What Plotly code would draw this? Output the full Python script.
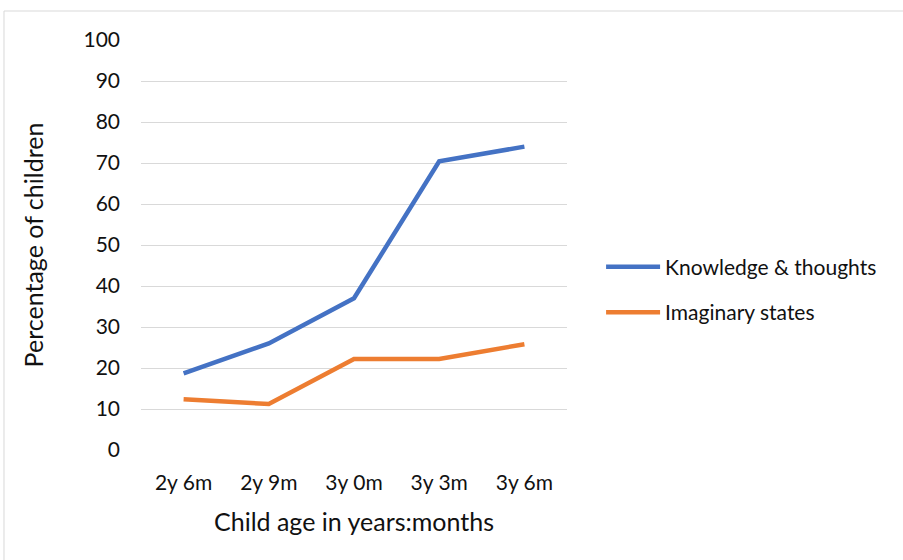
import plotly.graph_objects as go

# Age groups on the horizontal axis
ages = ["2y 6m", "2y 9m", "3y 0m", "3y 3m", "3y 6m"]

# Percentage of children per age group
knowledge_thoughts = [18.7, 26.0, 37.0, 70.4, 74.0]
imaginary_states = [12.4, 11.2, 22.2, 22.2, 25.8]

y_ticks = list(range(0, 101, 10))

FONT = "Lato, 'Open Sans', sans-serif"
TEXT = "#111111"
GRID = "#d9d9d9"

fig = go.Figure()
fig.add_trace(go.Scatter(
    x=ages, y=knowledge_thoughts, mode="lines", name="Knowledge & thoughts",
    legendgroup="k", line=dict(color="#4472C4", width=4.5),
))
fig.add_trace(go.Scatter(
    x=ages, y=imaginary_states, mode="lines", name="Imaginary states",
    legendgroup="i", line=dict(color="#ED7D31", width=4.5),
))

# light chart-area frame
fig.add_shape(type="rect", xref="paper", yref="paper",
              x0=-0.3216, x1=3.0, y0=-1.0, y1=1.0707,
              line=dict(color=GRID, width=1), fillcolor="rgba(0,0,0,0)",
              layer="below")

fig.update_layout(
    width=903, height=560,
    margin=dict(l=141, r=336, t=40, b=110),
    paper_bgcolor="white", plot_bgcolor="white",
    font=dict(family=FONT, size=21, color=TEXT),
    showlegend=True,
    legend=dict(
        x=1.08, y=0.391, xanchor="left", yanchor="middle",
        font=dict(family=FONT, size=21, color=TEXT),
        itemwidth=54, tracegroupgap=15, bgcolor="rgba(0,0,0,0)",
    ),
    xaxis=dict(
        type="category", range=[-0.5, 4.5],
        showgrid=False, zeroline=False, showline=False, ticks="",
        tickfont=dict(family=FONT, size=21, color=TEXT),
        ticklabelstandoff=18,
        title=dict(text="Child age in years:months",
                   font=dict(family=FONT, size=25, color=TEXT), standoff=20),
    ),
    yaxis=dict(
        range=[0, 100], tickvals=y_ticks,
        showgrid=True, gridcolor=GRID, gridwidth=1.3,
        zeroline=False, showline=False, ticks="",
        tickfont=dict(family=FONT, size=21, color=TEXT),
        ticklabelstandoff=20,
        title=dict(text="Percentage of children",
                   font=dict(family=FONT, size=25, color=TEXT), standoff=32),
    ),
)

fig.write_html("out.html")
